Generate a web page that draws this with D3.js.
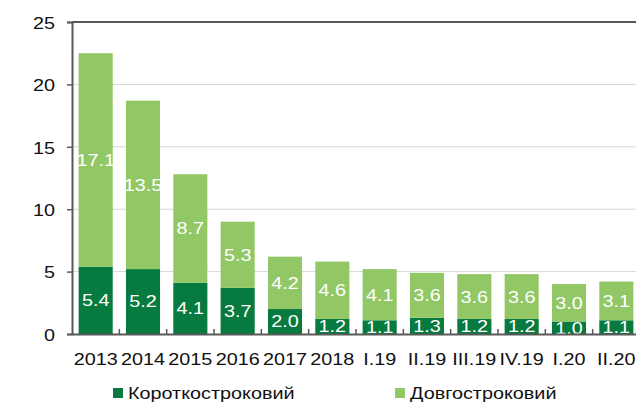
<!DOCTYPE html>
<html lang="uk">
<head>
<meta charset="utf-8">
<title>Stacked bars</title>
<script src="https://cdn.jsdelivr.net/npm/d3@7"></script>
<style>
  body { margin: 0; background: #fff; }
  text { font-family: "Liberation Sans", Arial, sans-serif; }
</style>
</head>
<body>
<script>
var categories = ["2013", "2014", "2015", "2016", "2017", "2018", "I.19", "II.19", "III.19", "IV.19", "I.20", "II.20"];
var shortTerm = [5.4, 5.2, 4.1, 3.7, 2.0, 1.2, 1.1, 1.3, 1.2, 1.2, 1.0, 1.1];
var longTerm = [17.1, 13.5, 8.7, 5.3, 4.2, 4.6, 4.1, 3.6, 3.6, 3.6, 3.0, 3.1];
var seriesNames = ["Короткостроковий", "Довгостроковий"];
var yTicks = [0, 5, 10, 15, 20, 25];

var W = 636, H = 403;
var colors = ["#077a3f", "#92c765"];
var FS = 16.5;
var SX = 1.2; // text in the original is stretched horizontally

// put a text at (px, py) stretched in x
function stretch(sel, px, py) {
  sel.attr("x", 0).attr("y", 0)
    .attr("transform", function(d, i){
      var a = typeof px === "function" ? px(d, i) : px;
      var b = typeof py === "function" ? py(d, i) : py;
      return "translate(" + a + "," + b + ") scale(" + SX + ",1)";
    });
}

var x = d3.scaleBand().domain(categories).range([72, 640]).paddingInner(0.28).paddingOuter(0.14);
var y = d3.scaleLinear().domain([0, 25]).range([334, 22]);

var svg = d3.select("body").append("svg").attr("width", W).attr("height", H);

// grid
svg.append("g").selectAll("line")
  .data(yTicks.filter(function(d){ return d > 0 && d < 25; }))
  .enter().append("line")
  .attr("x1", 72).attr("x2", W)
  .attr("y1", function(d){ return y(d); }).attr("y2", function(d){ return y(d); })
  .attr("stroke", "#d4d7db").attr("stroke-width", 1);

svg.append("clipPath").attr("id", "plot")
  .append("rect").attr("x", 72).attr("y", 22).attr("width", W - 72).attr("height", 312);

var rows = categories.map(function(c, i){ return { cat: c, s: shortTerm[i], l: longTerm[i] }; });
var stack = d3.stack().keys(["s", "l"])(rows);

var plot = svg.append("g").attr("clip-path", "url(#plot)");

stack.forEach(function(layer, k){
  var g = plot.append("g");
  g.selectAll("rect").data(layer).enter().append("rect")
    .attr("x", function(d){ return x(d.data.cat); })
    .attr("width", x.bandwidth())
    .attr("y", function(d){ return y(d[1]); })
    .attr("height", function(d){ return y(d[0]) - y(d[1]); })
    .attr("fill", colors[k]);
  g.selectAll("text").data(layer).enter().append("text")
    .attr("dy", "0.36em")
    .attr("text-anchor", "middle")
    .attr("fill", "#fff")
    .attr("font-size", FS)
    .text(function(d){ return (d[1] - d[0]).toFixed(1); })
    .call(stretch,
      function(d){ return x(d.data.cat) + x.bandwidth() / 2; },
      function(d){ return y((d[0] + d[1]) / 2); });
});

// y axis
var yAxis = svg.append("g").attr("transform", "translate(72,0)")
  .call(d3.axisLeft(y).tickValues(yTicks).tickSize(5).tickFormat(d3.format("d")));
yAxis.select(".domain").attr("stroke", "#595959").attr("stroke-width", 2);
yAxis.selectAll(".tick line").attr("stroke", "#595959").attr("stroke-width", 1.5);
yAxis.selectAll(".tick text").attr("font-size", FS).attr("fill", "#111")
  .attr("font-family", "Liberation Sans, Arial, sans-serif")
  .call(stretch, -17, 1);

// top frame line
svg.append("line").attr("x1", 72).attr("x2", W).attr("y1", 22).attr("y2", 22)
  .attr("stroke", "#595959").attr("stroke-width", 2);

// x axis
var step = x.step();
var bounds = categories.slice(1).map(function(c){ return x(c) - (step - x.bandwidth()) / 2; });
svg.append("g").selectAll("line").data(bounds).enter().append("line")
  .attr("x1", function(d){ return d; }).attr("x2", function(d){ return d; })
  .attr("y1", 334).attr("y2", 329)
  .attr("stroke", "#595959").attr("stroke-width", 1.5);

var xAxis = svg.append("g").attr("transform", "translate(0,334)")
  .call(d3.axisBottom(x).tickSize(0));
xAxis.select(".domain").attr("stroke", "#595959").attr("stroke-width", 2);
xAxis.selectAll(".tick text").attr("font-size", FS).attr("fill", "#111")
  .attr("font-family", "Liberation Sans, Arial, sans-serif")
  .attr("dy", null)
  .call(stretch, 0, 31);

// legend
var legendX = [113, 395];
var lg = svg.append("g").selectAll("g").data(seriesNames).enter().append("g")
  .attr("transform", function(d, i){ return "translate(" + legendX[i] + ",388)"; });
lg.append("rect").attr("width", 10).attr("height", 10).attr("fill", function(d, i){ return colors[i]; });
lg.append("text").attr("dy", "0.36em")
  .attr("font-size", FS).attr("fill", "#111").text(function(d){ return d; })
  .call(stretch, 15, 5);
</script>
</body>
</html>
